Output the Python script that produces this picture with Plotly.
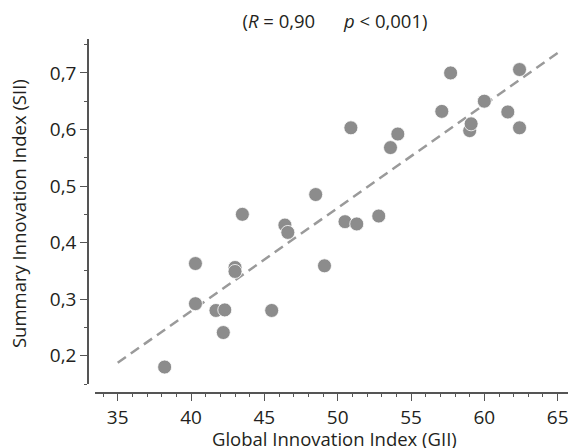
import numpy as np
import plotly.graph_objects as go

# Data
gii = [38.2, 40.3, 40.3, 41.7, 42.3, 42.2, 43.0, 43.0, 43.5, 45.5,
       46.4, 46.6, 48.5, 49.1, 50.5, 50.9, 51.3, 52.8, 53.6, 54.1,
       57.1, 57.7, 59.0, 59.1, 60.0, 61.6, 62.4, 62.4]
sii = [0.180, 0.292, 0.363, 0.280, 0.281, 0.241, 0.356, 0.349, 0.450, 0.280,
       0.431, 0.418, 0.485, 0.359, 0.437, 0.603, 0.433, 0.447, 0.568, 0.592,
       0.632, 0.700, 0.598, 0.610, 0.650, 0.631, 0.706, 0.603]
fit_x = [35, 65]
x_ticks = [35, 40, 45, 50, 55, 60, 65]
y_ticks = [0.2, 0.3, 0.4, 0.5, 0.6, 0.7]
x_title = "Global Innovation Index (GII)"
y_title = "Summary Innovation Index (SII)"

slope, intercept = np.polyfit(gii, sii, 1)
fit_y = [slope * v + intercept for v in fit_x]

FONT = "Open Sans"
AX = "#555555"
TXT = "#231f20"

# the page body adds an 8px margin, so the figure is 8px smaller
W, H = 568, 440

fig = go.Figure()
fig.add_trace(go.Scatter(
    x=fit_x, y=fit_y, mode="lines",
    line=dict(color="#9a9a9a", width=2.5, dash="10px,6px"),
    showlegend=False, hoverinfo="skip"))
fig.add_trace(go.Scatter(
    x=gii, y=sii, mode="markers",
    marker=dict(size=14, color="#8c8c8c", line=dict(color="white", width=0.8)),
    showlegend=False))

SP = "\u00a0" * 6
fig.update_layout(
    width=W, height=H,
    margin=dict(l=80, r=0, t=31, b=55, autoexpand=False),
    paper_bgcolor="white", plot_bgcolor="white",
    separators=", ",
    font=dict(family=FONT, size=19, color=TXT),
    title=dict(text="(<i>R</i> = 0,90" + SP + "<i>p</i> &lt; 0,001)",
               x=0.506, xref="paper", xanchor="center",
               y=1 - 14 / H, yref="container", yanchor="middle",
               font=dict(family=FONT, size=18.5, color=TXT)),
    xaxis=dict(
        domain=[0.0143, 1], anchor="free", position=0, automargin=False,
        range=[33.45, 66.25], tickvals=x_ticks,
        showline=True, linecolor=AX, linewidth=1.5,
        ticks="outside", ticklen=7, tickwidth=1.2, tickcolor=AX,
        tickfont=dict(family=FONT, size=19, color=TXT),
        minor=dict(dtick=1, tick0=0, ticks="outside", ticklen=3.5, tickwidth=1.2, tickcolor=AX),
        showgrid=False, zeroline=False,
    ),
    yaxis=dict(
        domain=[0.0254, 1], anchor="free", position=0, automargin=False,
        range=[0.15, 0.76], tickvals=y_ticks, tickformat=".1f",
        showline=True, linecolor=AX, linewidth=1.5,
        ticks="outside", ticklen=7, tickwidth=1.2, tickcolor=AX,
        tickfont=dict(family=FONT, size=19, color=TXT),
        minor=dict(dtick=0.05, tick0=0, ticks="outside", ticklen=3.5, tickwidth=1.2, tickcolor=AX),
        showgrid=False, zeroline=False,
    ),
    annotations=[
        dict(text=x_title, xref="paper", yref="paper", x=0.506, y=-0.128,
             xanchor="center", yanchor="middle", showarrow=False,
             font=dict(family=FONT, size=18.5, color=TXT)),
        dict(text=y_title, xref="paper", yref="paper", x=-0.1434, y=0.5056,
             xanchor="center", yanchor="middle", textangle=-90, showarrow=False,
             font=dict(family=FONT, size=18.5, color=TXT)),
    ],
)

fig.write_html("out.html")
